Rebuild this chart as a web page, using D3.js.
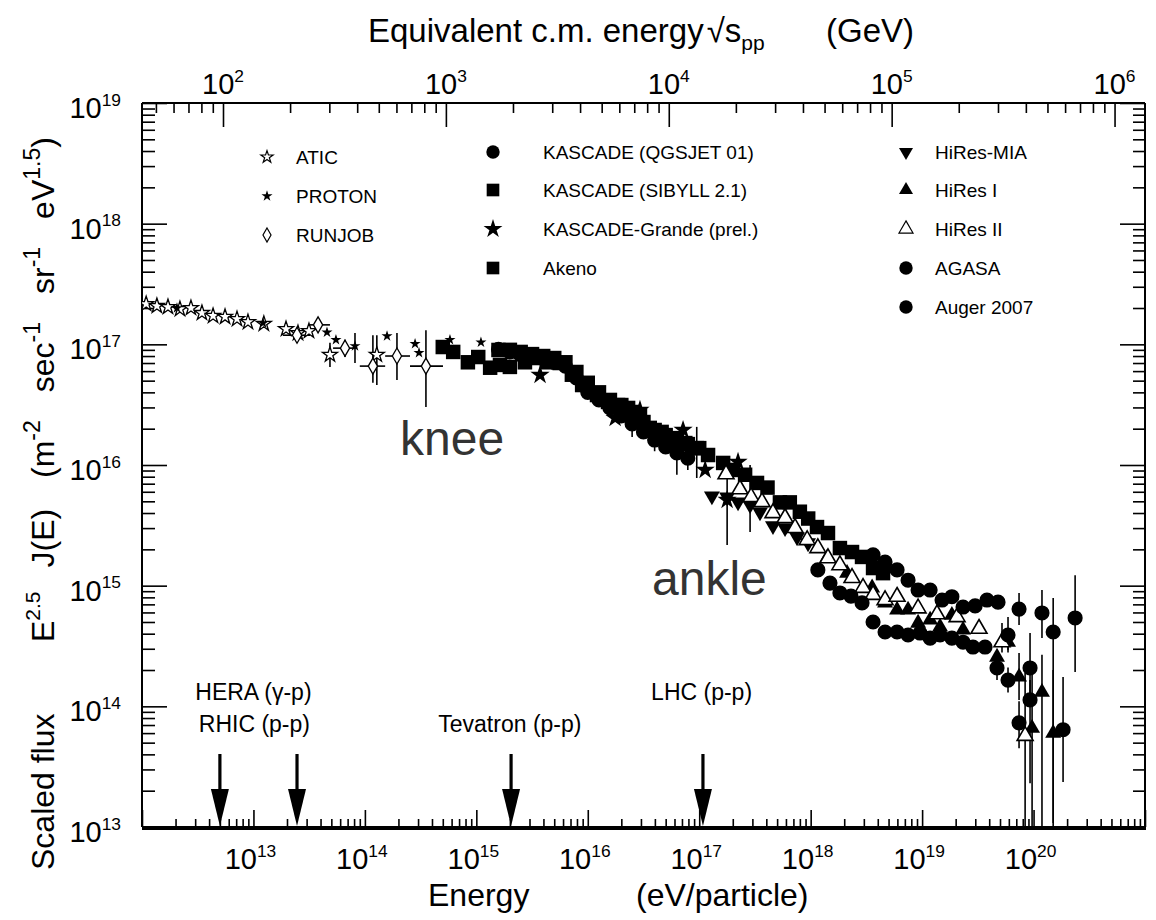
<!DOCTYPE html>
<html>
<head>
<meta charset="utf-8">
<script src="https://cdn.jsdelivr.net/npm/d3@7"></script>
<style>
  body { margin: 0; background: #fff; }
  svg text { font-family: "Liberation Sans", Arial, Helvetica, sans-serif; fill: #000; }
</style>
</head>
<body>
<svg id="chart" width="1156" height="920"></svg>
<script>
// ---------------- data: [E (eV), scaled flux, fluxLow, fluxHigh, Elow, Ehigh] ----------------
const atic = [
  [1.09e12, 2.16e17], [1.36e12, 2.08e17], [1.71e12, 2.04e17], [2.19e12, 1.96e17], [2.75e12, 2.0e17],
  [3.45e12, 1.82e17], [4.34e12, 1.72e17], [5.56e12, 1.69e17], [7.12e12, 1.62e17], [8.93e12, 1.53e17],
  [1.24e13, 1.48e17], [1.96e13, 1.34e17], [2.51e13, 1.24e17], [3.15e13, 1.29e17],
  [4.86e13, 8.2e16, 6.5e16, 1.03e17], [1.28e14, 8.2e16, 4.6e16, 1.19e17]
];
const proton = [
  [2.06e12, 2.0e17], [1.22e13, 1.5e17], [4.57e13, 1.26e17], [5.5e13, 1.09e17],
  [8.15e13, 9.7e16, 7.0e16, 1.24e17], [1.58e14, 1.17e17], [2.82e14, 1.01e17],
  [3.06e14, 8.5e16], [5.8e14, 1.09e17], [1.1e15, 1.04e17]
];
const runjob = [
  [2.46e13, 1.19e17, null, null, 1.84e13, 3.22e13],
  [3.8e13, 1.45e17, null, null, 3.22e13, 4.86e13],
  [6.63e13, 9.3e16, 7.85e16, 1.09e17, 5.18e13, 8.5e13],
  [1.18e14, 6.6e16, 4.8e16, 1.19e17, 9.0e13, 1.52e14],
  [1.94e14, 8.0e16, 5.06e16, 1.24e17, 1.52e14, 2.54e14],
  [3.53e14, 6.6e16, 3.03e16, 1.31e17, 2.54e14, 5.02e14]
];
const kascadeQgsjet = [
  [1.58e15, 9.1e16], [2.0e15, 8.65e16], [2.5e15, 8.2e16], [3.16e15, 7.85e16], [3.98e15, 7.6e16],
  [5.0e15, 7.1e16], [6.3e15, 6.6e16], [7.9e15, 5.26e16], [1.0e16, 4.0e16], [1.26e16, 3.46e16],
  [1.58e16, 2.97e16], [2.0e16, 2.55e16], [2.5e16, 2.19e16, 1.71e16, 2.4e16], [3.16e16, 1.88e16],
  [3.98e16, 1.61e16, 1.3e16, 1.75e16], [5.0e16, 1.41e16], [6.3e16, 1.26e16, 8.3e15, 1.52e16],
  [7.9e16, 1.14e16, 9.1e15, 1.38e16]
];
const kascadeSibyll = [
  [1.58e15, 8.98e16], [2.0e15, 9.0e16], [2.5e15, 8.65e16], [3.16e15, 8.3e16], [3.98e15, 8.0e16],
  [5.0e15, 7.7e16], [6.3e15, 7.1e16], [7.9e15, 5.9e16], [1.0e16, 4.8e16], [1.26e16, 4.0e16],
  [1.58e16, 3.46e16], [2.0e16, 3.14e16], [2.5e16, 2.75e16], [3.16e16, 2.27e16], [3.98e16, 1.95e16],
  [5.0e16, 1.77e16], [6.3e16, 1.61e16], [7.9e16, 1.49e16], [1.0e17, 1.38e16]
];
const kascadeGrande = [
  [3.73e15, 5.57e16], [1.76e16, 2.45e16], [2.94e16, 2.86e16], [7.16e16, 1.95e16],
  [1.13e17, 9.1e15], [1.78e17, 5.13e15, 2.17e15, 8.3e15], [2.23e17, 1.06e16]
];
const akeno = [
  [5.0e14, 9.5e16], [6.2e14, 8.65e16], [8.4e14, 7.1e16], [1.04e15, 7.85e16], [1.33e15, 6.4e16],
  [1.63e15, 6.75e16], [2.0e15, 6.5e16], [2.73e15, 7.1e16], [3.5e15, 7.7e16], [4.3e15, 7.1e16],
  [5.6e15, 7.0e16], [7.2e15, 5.6e16], [8.9e15, 4.6e16], [1.21e16, 3.8e16], [1.52e16, 3.33e16],
  [1.87e16, 3.14e16], [2.3e16, 2.97e16], [2.94e16, 2.6e16], [3.6e16, 2.03e16], [4.6e16, 1.88e16],
  [5.8e16, 1.67e16], [7.5e16, 1.52e16], [9.5e16, 1.38e16, 7.8e15, 2.07e16], [1.2e17, 1.21e16],
  [1.64e17, 1.04e16], [2.0e17, 9.1e15], [2.58e17, 8.3e15], [3.3e17, 7.1e15], [4.1e17, 6.5e15],
  [5.3e17, 4.9e15], [6.5e17, 4.9e15], [8.0e17, 4.1e15], [9.5e17, 3.6e15], [1.14e18, 3.06e15],
  [1.43e18, 2.73e15], [1.83e18, 2.05e15], [2.35e18, 1.9e15], [2.89e18, 1.73e15], [3.63e18, 1.4e15],
  [4.46e18, 1.27e15]
];
const hiresMia = [
  [1.30e17, 5.53e15], [1.78e17, 5.43e15], [2.23e17, 4.93e15], [2.86e17, 4.67e15, 2.79e15, 1.0e16],
  [3.51e17, 4.08e15], [4.59e17, 3.13e15], [5.89e17, 3.01e15], [7.55e17, 2.53e15], [9.47e17, 2.26e15]
];
const hires1 = [
  [1.40e18, 1.69e15], [2.12e18, 1.27e15], [3.56e18, 9.6e14], [4.65e18, 7.2e14], [5.96e18, 6.3e14],
  [7.48e18, 6.3e14], [9.2e18, 4.9e14], [1.18e19, 5.2e14], [1.45e19, 4.55e14], [1.85e19, 5.7e14],
  [2.33e19, 4.3e14], [4.7e19, 2.56e14], [5.9e19, 3.4e14, 2.8e14, 4.1e14],
  [7.41e19, 1.75e14, 1.13e14, 2.77e14], [9.7e19, 6.6e13, 1e12, 1.82e14],
  [1.19e20, 1.31e14, 1e12, 2.67e14], [1.50e20, 6.0e13, 1e12, 2.0e14]
];
const hires2 = [
  [1.74e17, 8.4e15], [2.32e17, 6.3e15], [2.92e17, 5.43e15], [3.66e17, 4.93e15], [4.59e17, 4.0e15],
  [5.89e17, 3.64e15], [7.24e17, 3.01e15], [9.3e17, 2.39e15], [1.16e18, 2.05e15], [1.43e18, 1.69e15],
  [1.83e18, 1.48e15], [2.35e18, 1.16e15], [2.95e18, 9.6e14], [3.63e18, 8.4e14], [4.65e18, 7.6e14],
  [5.96e18, 8.1e14], [9.2e18, 6.5e14], [1.36e19, 5.8e14], [2.06e19, 5.5e14], [3.24e19, 4.4e14],
  [5.21e19, 3.4e14, 2.8e14, 4.9e14], [8.4e19, 5.7e13, 1e12, 1.89e14]
];
const agasa = [
  [3.63e18, 1.80e15], [4.65e18, 1.57e15], [5.96e18, 1.35e15], [7.48e18, 1.11e15], [9.2e18, 9.2e14],
  [1.18e19, 9.2e14], [1.51e19, 7.6e14], [1.85e19, 8.1e14], [2.33e19, 6.65e14], [2.99e19, 6.8e14],
  [3.82e19, 7.6e14, 6.9e14, 8.5e14], [4.8e19, 7.3e14, 6.6e14, 8.3e14],
  [5.9e19, 3.9e14, 2.93e14, 5.5e14], [7.41e19, 6.4e14, 4.72e14, 8.7e14],
  [9.3e19, 2.08e14, 1.13e14, 4.05e14], [1.19e20, 5.94e14, 3.68e14, 9.2e14],
  [1.50e20, 4.13e14, 1.08e13, 7.9e14], [1.84e20, 6.4e13, 2.36e13, 1.75e14],
  [2.36e20, 5.4e14, 1.93e14, 1.22e15]
];
const auger = [
  [1.16e18, 1.35e15], [1.49e18, 1.05e15], [1.83e18, 8.7e14], [2.30e18, 8.2e14], [2.89e18, 7.2e14],
  [3.63e18, 5.0e14], [4.65e18, 4.13e14], [5.96e18, 4.13e14], [7.48e18, 3.9e14], [9.58e18, 4.05e14],
  [1.18e19, 3.68e14], [1.45e19, 3.9e14], [1.85e19, 3.68e14], [2.33e19, 3.4e14], [2.86e19, 3.1e14],
  [3.67e19, 3.1e14], [4.7e19, 2.08e14, 1.65e14, 2.56e14], [5.9e19, 1.65e14, 1.3e14, 2.1e14],
  [7.41e19, 7.3e13, 4.5e13, 1.1e14], [9.3e19, 1.13e14, 2.3e13, 1.65e14]
];

// accelerator equivalent energies (eV, lab frame) and their labels
const colliderE = [5.0e12, 2.46e13, 2.05e15, 1.08e17];
const colliderLabels = [
  { text: "HERA (\u03B3-p)", E: 1.0e13, row: 0 },
  { text: "RHIC (p-p)", E: 1.02e13, row: 1 },
  { text: "Tevatron (p-p)", E: 2.0e15, row: 1 },
  { text: "LHC (p-p)", E: 1.05e17, row: 0 }
];

// tick exponents
const xTickExp = [13, 14, 15, 16, 17, 18, 19, 20];
const yTickExp = [13, 14, 15, 16, 17, 18, 19];
const topTickExp = [2, 3, 4, 5, 6];

// ---------------- layout ----------------
const M = { left: 142, right: 1145, top: 103, bottom: 827 };
const svg = d3.select("#chart");

const x = d3.scaleLog().domain([1e12, 1e21]).range([M.left, M.right]);
const y = d3.scaleLog().domain([1e13, 1e19]).range([M.bottom, M.top]);
// centre-of-mass energy of a proton hitting a proton at rest, in GeV
const protonMass = 0.938e9;
const sqrtS = E => Math.sqrt(2 * protonMass * E) / 1e9;
const xTop = d3.scaleLog().domain([sqrtS(1e12), sqrtS(1e21)]).range([M.left, M.right]);

function logTicks(lo, hi) {
  const major = [], minor = [];
  for (let n = Math.floor(Math.log10(lo)); n <= Math.ceil(Math.log10(hi)); n++) {
    for (let k = 1; k < 10; k++) {
      const v = k * Math.pow(10, n);
      if (v < lo * 0.9999 || v > hi * 1.0001) continue;
      (k === 1 ? major : minor).push(v);
    }
  }
  return { major, minor };
}

function drawAxis(axisFn, scale, ticks, pos, majorLen, minorLen) {
  [[ticks.major, majorLen], [ticks.minor, minorLen]].forEach(([vals, len]) => {
    svg.append("g")
      .attr("transform", pos)
      .call(axisFn(scale).tickValues(vals).tickSize(-len).tickSizeOuter(0).tickFormat(""))
      .call(g => g.select(".domain").remove())
      .call(g => g.selectAll(".tick line").attr("stroke", "#000").attr("stroke-width", 1.6));
  });
}

const xt = logTicks(1e12, 1e21);
const yt = logTicks(1e13, 1e19);
const tt = logTicks(xTop.domain()[0], xTop.domain()[1]);
drawAxis(d3.axisBottom, x, xt, `translate(0,${M.bottom})`, 17, 8);
drawAxis(d3.axisTop, xTop, tt, `translate(0,${M.top})`, 24, 10);
drawAxis(d3.axisLeft, y, yt, `translate(${M.left},0)`, 25, 13);
drawAxis(d3.axisRight, y, yt, `translate(${M.right},0)`, 25, 12);

// frame
const frame = svg.append("g").attr("stroke", "#000").attr("fill", "none");
frame.append("line").attr("x1", M.left).attr("x2", M.right).attr("y1", M.top).attr("y2", M.top).attr("stroke-width", 2);
frame.append("line").attr("x1", M.left).attr("x2", M.left).attr("y1", M.top).attr("y2", M.bottom).attr("stroke-width", 2);
frame.append("line").attr("x1", M.right).attr("x2", M.right).attr("y1", M.top).attr("y2", M.bottom).attr("stroke-width", 2);
frame.append("line").attr("x1", M.left).attr("x2", M.right + 1).attr("y1", M.bottom + 1).attr("y2", M.bottom + 1).attr("stroke-width", 4);

// power-of-ten labels
function powLabel(px, py, exp, size, anchor) {
  const t = svg.append("text").attr("x", px).attr("y", py)
    .attr("font-size", size).attr("text-anchor", anchor);
  t.append("tspan").text("10");
  t.append("tspan").attr("dy", -size * 0.42).attr("font-size", size * 0.6).text(exp);
}
xTickExp.forEach(e => powLabel(x(Math.pow(10, e)) - 3, 869, e, 29, "middle"));
topTickExp.forEach(e => powLabel(xTop(Math.pow(10, e)), 94, e, 29, "middle"));
yTickExp.forEach(e => powLabel(121, y(Math.pow(10, e)) + 15, e, 29, "end"));

// axis titles
const title = svg.append("text").attr("x", 368).attr("y", 42).attr("font-size", 33);
title.append("tspan").text("Equivalent c.m. energy");
title.append("tspan").attr("dx", 3).text("\u221A");
title.append("tspan").text("s");
title.append("tspan").attr("dy", 8).attr("font-size", 21).text("pp");
title.append("tspan").attr("x", 826).attr("dy", -8).text("(GeV)");

svg.append("text").attr("x", 428).attr("y", 906).attr("font-size", 32).text("Energy");
svg.append("text").attr("x", 636).attr("y", 906).attr("font-size", 32).text("(eV/particle)");

const yTitle = svg.append("g").attr("transform", "translate(54,0) rotate(-90)").attr("font-size", 32);
yTitle.append("text").attr("x", -870).attr("y", 0).text("Scaled flux");
const ej = yTitle.append("text").attr("x", -642).attr("y", 0);
ej.append("tspan").text("E");
ej.append("tspan").attr("dy", -14).attr("font-size", 21).text("2.5");
ej.append("tspan").attr("dy", 14).attr("dx", 24).text("J(E)");
const un = yTitle.append("text").attr("x", -478).attr("y", 0);
[["(m", "-2"], ["sec", "-1"], ["sr", "-1"], ["eV", "1.5"]].forEach(([base, sup], i) => {
  un.append("tspan").attr("dy", i === 0 ? 0 : 14).attr("dx", i === 0 ? 0 : 28).text(base);
  un.append("tspan").attr("dy", -14).attr("font-size", 23).text(sup);
});
un.append("tspan").attr("dy", 14).text(")");

// ---------------- data marks ----------------
svg.append("clipPath").attr("id", "plotClip")
  .append("rect").attr("x", M.left).attr("y", M.top)
  .attr("width", M.right - M.left).attr("height", M.bottom - M.top);
const plot = svg.append("g").attr("clip-path", "url(#plotClip)");

const series = [
  { name: "ATIC", data: atic, type: d3.symbolStar, size: 70, fill: "#fff", stroke: 1.3, leg: [0, 0], legSize: 46 },
  { name: "PROTON", data: proton, type: d3.symbolStar, size: 38, fill: "#000", stroke: 0, leg: [0, 1], legSize: 38 },
  { name: "RUNJOB", data: runjob, type: d3.symbolDiamond, size: 74, fill: "#fff", stroke: 1.3, leg: [0, 2], legSize: 56 },
  { name: "KASCADE (QGSJET 01)", data: kascadeQgsjet, type: d3.symbolCircle, size: 180, fill: "#000", stroke: 0, leg: [1, 0], legSize: 140 },
  { name: "KASCADE (SIBYLL 2.1)", data: kascadeSibyll, type: d3.symbolSquare, size: 210, fill: "#000", stroke: 0, leg: [1, 1], legSize: 160 },
  { name: "KASCADE-Grande (prel.)", data: kascadeGrande, type: d3.symbolStar, size: 115, fill: "#000", stroke: 0, leg: [1, 2], legSize: 110 },
  { name: "Akeno", data: akeno, type: d3.symbolSquare, size: 210, fill: "#000", stroke: 0, leg: [1, 3], legSize: 160 },
  { name: "HiRes-MIA", data: hiresMia, type: d3.symbolTriangle, rot: 180, size: 110, fill: "#000", stroke: 0, leg: [2, 0], legSize: 85 },
  { name: "HiRes I", data: hires1, type: d3.symbolTriangle, size: 110, fill: "#000", stroke: 0, leg: [2, 1], legSize: 85 },
  { name: "HiRes II", data: hires2, type: d3.symbolTriangle, size: 110, fill: "#fff", stroke: 1.6, leg: [2, 2], legSize: 85 },
  { name: "AGASA", data: agasa, type: d3.symbolCircle, size: 180, fill: "#000", stroke: 0, leg: [2, 3], legSize: 140 },
  { name: "Auger 2007", data: auger, type: d3.symbolCircle, size: 180, fill: "#000", stroke: 0, leg: [2, 4], legSize: 140 }
];

// error bars underneath the symbols
series.forEach(s => {
  s.data.forEach(d => {
    if (d[2] != null) {
      plot.append("line").attr("x1", x(d[0])).attr("x2", x(d[0]))
        .attr("y1", y(d[2])).attr("y2", y(d[3]))
        .attr("stroke", "#000").attr("stroke-width", 1.6);
    }
    if (d[4] != null) {
      plot.append("line").attr("x1", x(d[4])).attr("x2", x(d[5]))
        .attr("y1", y(d[1])).attr("y2", y(d[1]))
        .attr("stroke", "#000").attr("stroke-width", 1.6);
    }
  });
});

series.forEach(s => {
  const sym = d3.symbol().type(s.type).size(s.size);
  plot.append("g").selectAll("path").data(s.data).join("path")
    .attr("transform", d => `translate(${x(d[0])},${y(d[1])})${s.rot ? ` rotate(${s.rot})` : ""}`)
    .attr("d", sym)
    .attr("fill", s.fill)
    .attr("stroke", s.stroke ? "#000" : "none")
    .attr("stroke-width", s.stroke);
});

// ---------------- legend ----------------
const legCols = [{ mx: 267, tx: 296 }, { mx: 493, tx: 543 }, { mx: 906, tx: 935 }];
const legRows = [[157, 196, 235], [152, 190, 229, 268], [152, 190, 229, 268, 307]];
series.forEach(s => {
  const [c, r] = s.leg;
  const cy = legRows[c][r];
  svg.append("path")
    .attr("transform", `translate(${legCols[c].mx},${cy})${s.rot ? ` rotate(${s.rot})` : ""}`)
    .attr("d", d3.symbol().type(s.type).size(s.legSize))
    .attr("fill", s.fill)
    .attr("stroke", s.stroke ? "#000" : "none")
    .attr("stroke-width", s.stroke ? 1.2 : 0);
  svg.append("text").attr("x", legCols[c].tx).attr("y", cy + 7)
    .attr("font-size", 19).text(s.name);
});

// ---------------- annotations ----------------
svg.append("text").attr("x", 400).attr("y", 455).attr("font-size", 48).style("fill", "#333").text("knee");
svg.append("text").attr("x", 652).attr("y", 595).attr("font-size", 48).style("fill", "#333").text("ankle");

const arrows = svg.append("g");
colliderE.forEach(E => {
  const cx = x(E);
  arrows.append("line").attr("x1", cx).attr("x2", cx).attr("y1", M.bottom - 73).attr("y2", M.bottom - 34)
    .attr("stroke", "#000").attr("stroke-width", 3.2);
  arrows.append("path")
    .attr("d", `M${cx - 9},${M.bottom - 38} L${cx + 9},${M.bottom - 38} L${cx},${M.bottom - 1} Z`)
    .attr("fill", "#000");
});
colliderLabels.forEach(l => {
  svg.append("text").attr("x", x(l.E)).attr("y", l.row === 0 ? 700 : 732)
    .attr("text-anchor", "middle").attr("font-size", 23).text(l.text);
});
</script>
</body>
</html>
